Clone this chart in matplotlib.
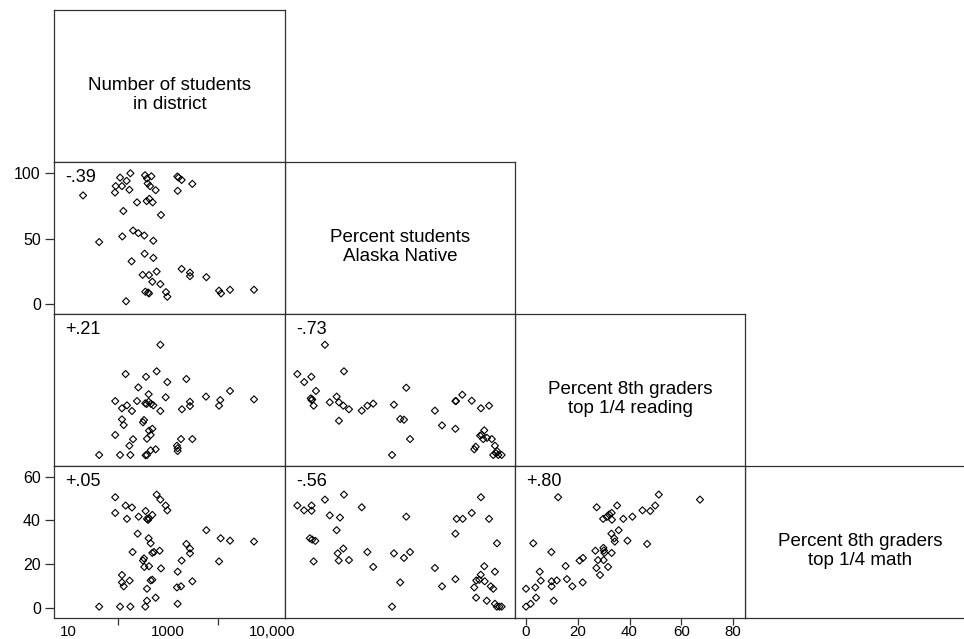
import matplotlib
matplotlib.use("Agg")
import matplotlib.pyplot as plt
from matplotlib.ticker import NullFormatter, NullLocator

plt.rcParams['font.family'] = ['Liberation Sans', 'DejaVu Sans']

# variable names on the diagonal
diag_labels = ["Number of students\nin district",
               "Percent students\nAlaska Native",
               "Percent 8th graders\ntop 1/4 reading",
               "Percent 8th graders\ntop 1/4 math"]

# correlations shown in the corner of each panel
r_native_enroll = "-.39"
r_reading_enroll = "+.21"
r_reading_native = "-.73"
r_math_enroll = "+.05"
r_math_native = "-.56"
r_math_reading = "+.80"

# row 2, col 1: percent Alaska Native vs enrollment
enroll_a = [20, 42, 110, 90, 87, 120, 149, 177, 169, 128, 240, 347, 380, 465, 392,
            437, 566, 374, 424, 493, 724, 1540, 1630, 1875, 1560, 3070, 122, 200,
            255, 336, 509, 341, 509, 187, 593, 311, 417, 486, 703, 1875, 2750, 2750,
            5850, 352, 417, 912, 970, 10500, 11500, 17400, 52500, 145, 400]
native_a = [83.1, 47.5, 96.7, 90.2, 85.3, 90.2, 94.2, 100, 87.4, 71.2, 77.8, 98.5,
            96.0, 97.7, 92.2, 90.2, 87.1, 78.8, 80.5, 77.8, 68.2, 97.5, 96.7, 94.9,
            86.6, 91.9, 51.8, 56.3, 54.3, 52.5, 48.5, 38.6, 35.4, 32.8, 25.0, 22.5,
            22.3, 17.2, 15.4, 27.0, 24.2, 21.5, 20.7, 9.6, 8.3, 9.3, 5.8, 10.4, 8.3,
            11.1, 11.1, 2.3, 9.0]

# row 3, col 1: reading vs enrollment
enroll_b = [703, 142, 363, 593, 970, 2330, 255, 410, 898, 5750, 17400, 52500, 11100,
            10500, 2750, 2750, 1900, 88, 151, 120, 190, 240, 352, 410, 509, 457, 703,
            120, 130, 331, 316, 486, 417, 450, 380, 88, 200, 169, 1820, 3070, 1510,
            1560, 1560, 42, 110, 177, 357, 380, 450, 566, 374]
reading_b = [66.6, 49.5, 47.9, 51.1, 44.8, 46.6, 41.7, 37.7, 35.9, 36.3, 39.6, 34.7,
             34.3, 31.0, 33.3, 30.8, 28.9, 33.7, 31.2, 29.5, 27.9, 33.7, 32.4, 33.3,
             31.2, 32.1, 27.9, 23.0, 19.7, 22.6, 21.3, 17.5, 16.4, 13.9, 11.7, 13.9,
             11.4, 7.6, 11.5, 11.5, 7.6, 6.1, 4.5, 2.2, 2.2, 2.2, 2.0, 2.2, 4.9, 5.5,
             32.0]

# row 4, col 1: math vs enrollment
enroll_c = [88, 88, 142, 190, 151, 259, 357, 380, 417, 486, 593, 703, 898, 970, 247,
            410, 450, 196, 486, 525, 681, 331, 316, 336, 417, 724, 2330, 2750, 2750,
            1875, 5850, 11300, 17400, 52500, 10500, 120, 120, 130, 171, 486, 450, 380,
            380, 566, 1560, 1510, 1820, 3070, 1560, 42, 110, 177, 352, 400]
math_c = [50.6, 43.4, 46.8, 45.9, 40.7, 41.7, 44.3, 40.7, 41.0, 42.5, 51.8, 49.5,
          46.8, 44.6, 33.9, 31.8, 29.5, 25.5, 25.1, 25.5, 26.1, 22.6, 21.6, 18.7,
          19.0, 18.0, 29.2, 27.1, 24.9, 21.6, 35.5, 31.8, 30.7, 30.3, 21.2, 15.0,
          11.6, 9.8, 12.4, 12.8, 12.5, 8.7, 3.2, 4.6, 16.5, 9.3, 9.8, 12.1, 1.8, 0.5,
          0.5, 0.5, 0.5, 40.2]

# row 3, col 2: reading vs percent Native
native_d = [15.4, 2.2, 5.5, 8.9, 24.5, 11.1, 8.6, 9.3, 10.0, 9.0, 17.7, 21.0, 22.1,
            24.2, 26.9, 33.0, 35.7, 38.5, 22.1, 48.4, 54.3, 51.4, 53.2, 56.1, 47.5,
            68.0, 71.4, 77.8, 81.1, 85.6, 90.0, 93.9, 77.8, 91.6, 89.6, 91.1, 92.9,
            95.2, 96.7, 87.5, 86.8, 97.7, 95.9, 98.3, 99.9, 97.2, 90.4, 78.1]
reading_d = [66.6, 49.5, 44.8, 47.9, 51.1, 39.6, 35.3, 34.7, 31.0, 34.3, 33.0, 36.3,
             33.0, 31.0, 28.9, 28.1, 31.0, 32.2, 22.2, 31.6, 41.5, 23.2, 22.8, 11.5,
             2.2, 28.1, 19.5, 33.7, 37.4, 33.9, 29.5, 31.0, 17.5, 16.6, 13.5, 11.5,
             12.2, 11.5, 7.6, 7.0, 5.5, 4.5, 2.2, 2.2, 2.2, 3.2, 14.0, 33.7]

# row 4, col 2: math vs percent Native
native_e = [2.2, 5.4, 9.0, 9.0, 15.4, 24.5, 33.0, 17.7, 22.6, 21.0, 8.2, 9.3, 10.8,
            10.0, 24.2, 21.5, 22.0, 26.9, 35.7, 38.5, 48.4, 53.2, 56.1, 54.3, 51.4,
            47.5, 68.0, 71.4, 77.8, 78.4, 81.3, 85.6, 90.0, 93.9, 97.7, 77.8, 91.6,
            89.9, 87.8, 89.2, 91.8, 96.7, 86.8, 94.7, 95.9, 87.7, 92.8, 96.7, 97.6,
            98.8, 99.9]
math_e = [46.8, 44.6, 46.8, 44.4, 49.5, 51.8, 46.0, 42.3, 41.3, 35.5, 31.8, 31.2,
          30.6, 21.2, 27.1, 24.9, 21.6, 21.8, 25.5, 18.7, 24.9, 22.8, 25.5, 41.7,
          11.6, 0.5, 18.2, 9.8, 33.9, 40.7, 40.7, 43.4, 50.6, 40.7, 29.5, 13.1, 19.0,
          15.1, 12.5, 12.8, 12.1, 16.5, 9.3, 9.8, 8.7, 4.6, 3.2, 1.8, 0.5, 0.5, 0.5]

# row 4, col 3: math vs reading
reading_f = [0.0, 0.0, 1.8, 3.9, 3.6, 2.8, 5.3, 5.7, 9.8, 9.9, 9.9, 10.7, 11.9, 12.4,
             15.3, 15.8, 17.9, 20.7, 22.0, 21.9, 26.8, 27.2, 28.6, 27.8, 29.9, 30.3,
             30.0, 31.7, 33.1, 27.3, 29.8, 31.2, 32.1, 33.1, 33.2, 35.2, 37.6, 41.1,
             45.0, 48.0, 49.9, 51.3, 67.2, 33.0, 34.1, 34.3, 35.8, 39.2, 46.8, 30.1]
math_f = [8.7, 0.5, 1.8, 4.6, 9.3, 29.5, 16.5, 12.4, 25.5, 12.1, 9.8, 3.2, 12.5, 50.6,
          19.1, 13.1, 9.8, 21.6, 22.8, 11.6, 26.1, 18.2, 15.0, 21.8, 27.4, 25.1, 21.8,
          18.7, 25.1, 46.0, 40.7, 41.6, 42.7, 43.4, 40.3, 46.8, 40.7, 41.7, 44.6, 44.3,
          46.8, 51.8, 49.5, 33.9, 31.8, 30.3, 35.5, 30.7, 29.2, 26.2]

# axis ranges
enroll_lim = (10 ** 0.72, 10 ** 5.34)
native_ylim = (-7.4, 108.6)
native_xlim = (-3.7, 106.3)
reading_lim = (-4.25, 84.6)
math_lim = (-4.7, 64.9)

# enrollment axis: labelled positions and plain ticks
enroll_lab_pos = [10, 1000, 120000]
enroll_lab_txt = ["10", "1000", "10,000"]
enroll_minor = [100, 10000]

W, H = 964, 639
col_edges = [54, 285, 515, 745, 975]
row_edges = [10, 162, 314, 466, 618]
line_col = '#333333'

fig = plt.figure(figsize=(W / 100, H / 100), dpi=100)


def panel(r, c):
    x0, x1 = col_edges[c], col_edges[c + 1]
    y0, y1 = row_edges[r], row_edges[r + 1]
    ax = fig.add_axes([x0 / W, 1 - y1 / H, (x1 - x0) / W, (y1 - y0) / H])
    for s in ax.spines.values():
        s.set_color(line_col)
        s.set_linewidth(0.9)
    ax.tick_params(colors=line_col, labelcolor='black', width=0.9)
    ax.tick_params(axis='x', labelsize=10.8)
    ax.tick_params(axis='y', labelsize=11.5)
    return ax


def scatter(ax, x, y, r_text):
    ax.scatter(x, y, marker='D', s=13, facecolors='none', edgecolors='black',
               linewidths=0.8, zorder=3)
    w = ax.get_position().width * W
    h = ax.get_position().height * H
    ax.text(11 / w, 1 - 7 / h, r_text, transform=ax.transAxes, ha='left', va='top',
            fontsize=13)


def clear_x(ax):
    ax.xaxis.set_major_locator(NullLocator())
    ax.xaxis.set_minor_locator(NullLocator())


def clear_y(ax):
    ax.yaxis.set_major_locator(NullLocator())
    ax.yaxis.set_minor_locator(NullLocator())


# diagonal labels
for i, lab in enumerate(diag_labels):
    ax = panel(i, i)
    clear_x(ax)
    clear_y(ax)
    ax.text(0.5, 0.44, lab, transform=ax.transAxes, ha='center', va='center',
            fontsize=13.5, linespacing=1.13, multialignment='center')

# column 1: enrollment on log scale
panels_c1 = [(1, native_a, enroll_a, r_native_enroll, native_ylim),
             (2, reading_b, enroll_b, r_reading_enroll, reading_lim),
             (3, math_c, enroll_c, r_math_enroll, math_lim)]
for r, yv, xv, rt, ylim in panels_c1:
    ax = panel(r, 0)
    ax.set_xscale('log')
    scatter(ax, xv, yv, rt)
    ax.set_xlim(*enroll_lim)
    ax.set_ylim(*ylim)
    clear_x(ax)
    clear_y(ax)
    if r == 1:
        ax.set_yticks([0, 50, 100])
        ax.tick_params(axis='y', length=6.5, pad=3)
    if r == 3:
        ax.set_yticks([0, 20, 40, 60])
        ax.tick_params(axis='y', length=6.5, pad=3)
        ax.set_xticks(enroll_lab_pos, labels=enroll_lab_txt)
        ax.set_xticks(enroll_minor, minor=True)
        ax.xaxis.set_minor_formatter(NullFormatter())
        ax.tick_params(axis='x', which='major', length=0, pad=5.0)
        ax.tick_params(axis='x', which='minor', length=5, width=0.9, color=line_col)

# column 2: percent Native
for r, yv, xv, rt, ylim in [(2, reading_d, native_d, r_reading_native, reading_lim),
                            (3, math_e, native_e, r_math_native, math_lim)]:
    ax = panel(r, 1)
    scatter(ax, xv, yv, rt)
    ax.set_xlim(*native_xlim)
    ax.set_ylim(*ylim)
    clear_x(ax)
    clear_y(ax)

# column 3: reading
ax = panel(3, 2)
scatter(ax, reading_f, math_f, r_math_reading)
ax.set_xlim(*reading_lim)
ax.set_ylim(*math_lim)
clear_y(ax)
ax.set_xticks([0, 20, 40, 60, 80])
ax.tick_params(axis='x', length=5, pad=0.1)

fig.savefig("out.png", dpi=100)
